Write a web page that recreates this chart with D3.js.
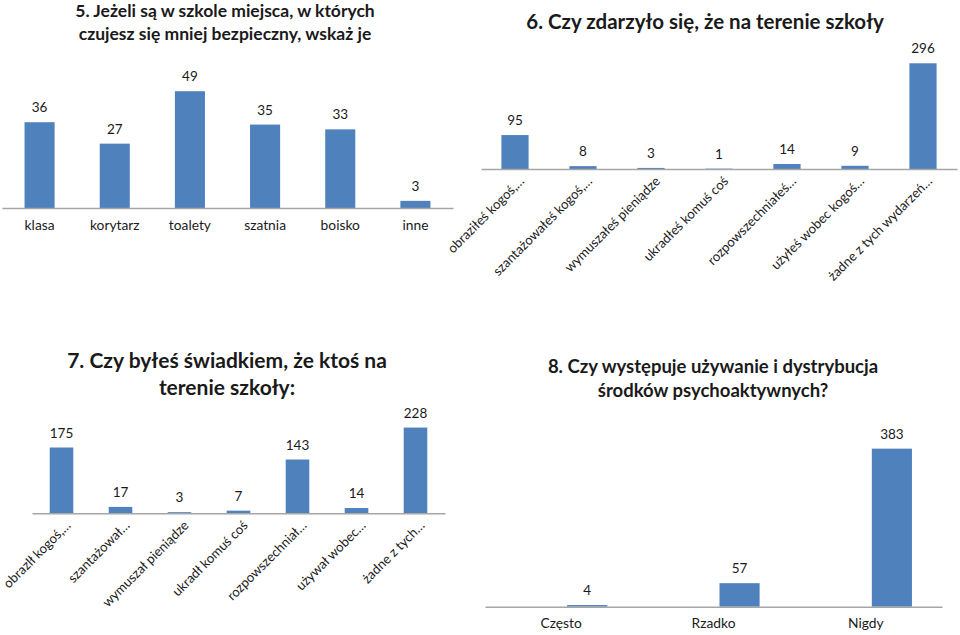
<!DOCTYPE html>
<html><head><meta charset="utf-8">
<script src="https://cdn.jsdelivr.net/npm/d3@7/dist/d3.min.js"></script>
<style>
html,body{margin:0;padding:0;background:#fff;}
svg{display:block;}
text{font-family:Lato,"Open Sans",sans-serif;fill:#1a1a1a;}
</style></head>
<body>
<svg id="c" width="960" height="635"></svg>
<script>
// ---- data ----
const q5Title = ["5. Jeżeli są w szkole miejsca, w których", "czujesz się mniej bezpieczny, wskaż je"];
const q5Categories = ["klasa", "korytarz", "toalety", "szatnia", "boisko", "inne"];
const q5Values = [36, 27, 49, 35, 33, 3];

const q6Title = ["6. Czy zdarzyło się, że na terenie szkoły"];
const q6Categories = ["obraziłeś kogoś,…", "szantażowałeś kogoś,…", "wymuszałeś pieniądze", "ukradłeś komuś coś", "rozpowszechniałeś…", "użyłeś wobec kogoś…", "żadne z tych wydarzeń…"];
const q6Values = [95, 8, 3, 1, 14, 9, 296];

const q7Title = ["7. Czy byłeś świadkiem, że ktoś na", "terenie szkoły:"];
const q7Categories = ["obrazlł kogoś,…", "szantażował…", "wymuszał pieniądze", "ukradł komuś coś", "rozpowszechniał…", "używał  wobec…", "żadne z tych…"];
const q7Values = [175, 17, 3, 7, 143, 14, 228];

const q8Title = ["8. Czy występuje używanie i dystrybucja", "środków psychoaktywnych?"];
const q8Categories = ["Często", "Rzadko", "Nigdy"];
const q8Values = [4, 57, 383];

// ---- drawing ----
const svg = d3.select("#c");
const BAR = "#4F81BD", AXIS = "#A6A6A6";

function panel(cfg) {
  const g = svg.append("g");
  const x = d3.scaleBand().domain(cfg.categories).range(cfg.xRange)
    .paddingInner(cfg.padInner).paddingOuter(cfg.padOuter);
  const y = d3.scaleLinear().domain([0, cfg.yMax]).range(cfg.yRange);
  const data = cfg.categories.map((c, i) => ({c, v: cfg.values[i]}));

  let bx = d => x(d.c), bw = x.bandwidth();
  if (cfg.sub) {
    const s = d3.scaleBand().domain(["", "v"]).range([0, x.bandwidth()])
      .paddingInner(cfg.sub[0]).paddingOuter(cfg.sub[1]);
    bx = d => x(d.c) + s("v");
    bw = s.bandwidth();
  }

  g.selectAll("rect").data(data).join("rect")
    .attr("x", bx).attr("width", bw)
    .attr("y", d => y(d.v)).attr("height", d => y(0) - y(d.v))
    .attr("fill", BAR);

  g.selectAll("text.val").data(data).join("text").attr("class", "val")
    .attr("x", d => bx(d) + bw / 2).attr("y", d => y(d.v) - 10)
    .attr("text-anchor", "middle").attr("font-size", 13.5).text(d => d.v);

  const ax = g.append("g").attr("transform", `translate(0,${y(0)})`)
    .call(d3.axisBottom(x).tickSize(0).tickPadding(12));
  ax.select(".domain").attr("stroke", AXIS).attr("stroke-width", 1.5);
  ax.selectAll("text").attr("font-size", cfg.rotate ? 13.2 : 13.8).attr("fill", "#1a1a1a")
    .style("font-family", "Lato, 'Open Sans', sans-serif");
  if (cfg.rotate) {
    ax.selectAll("text").attr("y", 0).attr("dy", 0).attr("text-anchor", "end")
      .attr("transform", "translate(10,13) rotate(-45)");
  }

  cfg.title.forEach((t, i) => {
    g.append("text").attr("x", cfg.titleX).attr("y", cfg.titleY[i])
      .attr("text-anchor", "middle").attr("font-weight", "bold")
      .attr("font-size", cfg.titleSize).text(t);
  });
}

panel({categories: q5Categories, values: q5Values, title: q5Title,
  xRange: [2, 453], padInner: 0.6, padOuter: 0.3, yMax: 60, yRange: [208, 65],
  titleX: 225, titleY: [17, 40], titleSize: 17.5});
panel({categories: q6Categories, values: q6Values, title: q6Title, rotate: true,
  xRange: [481, 957], padInner: 0.6, padOuter: 0.3, yMax: 350, yRange: [169, 44],
  titleX: 705, titleY: [29], titleSize: 20.5});
panel({categories: q7Categories, values: q7Values, title: q7Title, rotate: true,
  xRange: [32, 445], padInner: 0.6, padOuter: 0.3, yMax: 250, yRange: [513.3, 419.3],
  titleX: 227, titleY: [368, 395], titleSize: 21});
panel({categories: q8Categories, values: q8Values, title: q8Title, sub: [0.23, 0.577],
  xRange: [485, 942], padInner: 0, padOuter: 0, yMax: 450, yRange: [606.7, 421],
  titleX: 713, titleY: [373, 397], titleSize: 18.5});
</script>
</body></html>
